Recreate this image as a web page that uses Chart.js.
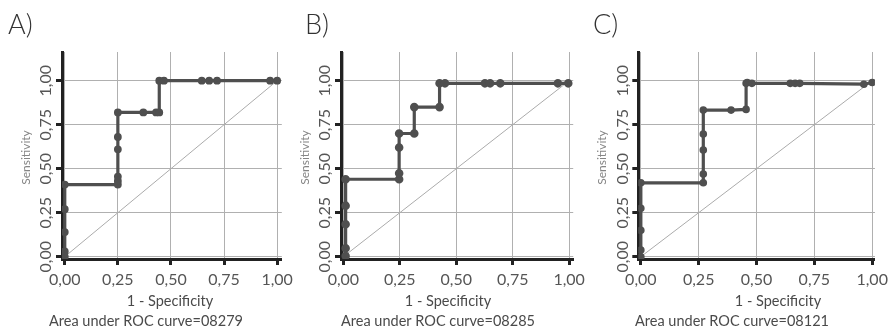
<!DOCTYPE html>
<html>
<head>
<meta charset="utf-8">
<script src="https://cdn.jsdelivr.net/npm/chart.js@4"></script>
<style>
body { margin: 0; background: #fff; width: 893px; height: 329px; position: relative; overflow: hidden; }
canvas { position: absolute; top: 0; }
</style>
</head>
<body>
<canvas id="chartA" width="298" height="329" style="left:0"></canvas>
<canvas id="chartB" width="292" height="329" style="left:298px"></canvas>
<canvas id="chartC" width="303" height="329" style="left:590px"></canvas>
<script>
// axis ticks
var tickValues = [0, 0.25, 0.5, 0.75, 1];
var tickLabels = ['0,00', '0,25', '0,50', '0,75', '1,00'];
var xTitle = '1 - Specificity';
var yTitle = 'Sensitivity';

// reference diagonal
var diagX = [0, 1];
var diagY = [0, 1];

// A) ROC points
var rocAX = [0, 0, 0, 0, 0, 0.25, 0.25, 0.25, 0.25, 0.25, 0.25, 0.37, 0.43, 0.445, 0.445, 0.467, 0.645, 0.68, 0.717, 0.967, 1.0];
var rocAY = [0, 0.03, 0.14, 0.27, 0.41, 0.41, 0.43, 0.455, 0.61, 0.68, 0.82, 0.82, 0.82, 0.82, 1, 1, 1, 1, 1, 1, 1];

// B) ROC points
var rocBX = [0.01, 0.01, 0.01, 0.01, 0.01, 0.247, 0.247, 0.247, 0.247, 0.314, 0.314, 0.426, 0.426, 0.45, 0.627, 0.65, 0.695, 0.95, 0.996];
var rocBY = [0.004, 0.048, 0.184, 0.29, 0.44, 0.44, 0.474, 0.62, 0.70, 0.70, 0.85, 0.85, 0.985, 0.985, 0.985, 0.985, 0.985, 0.985, 0.985];

// C) ROC points
var rocCX = [0, 0, 0, 0, 0, 0.27, 0.27, 0.27, 0.27, 0.27, 0.39, 0.455, 0.455, 0.46, 0.48, 0.646, 0.667, 0.687, 0.964, 1.0];
var rocCY = [0, 0.038, 0.15, 0.275, 0.42, 0.42, 0.47, 0.606, 0.697, 0.833, 0.833, 0.837, 0.985, 0.99, 0.985, 0.985, 0.985, 0.985, 0.98, 0.99];

var panelNames = ['A)', 'B)', 'C)'];
var aucTexts = ['Area under ROC curve=08279', 'Area under ROC curve=08285', 'Area under ROC curve=08121'];

var fontFamily = "Lato, 'Noto Sans', sans-serif";

function pts(xs, ys) {
    return xs.map(function (x, i) { return { x: x, y: ys[i] }; });
}

// panel letter, y title and the two lines under the x axis
var panelText = {
    id: 'panelText',
    afterDraw: function (chart, args, opts) {
        var ctx = chart.ctx;
        var area = chart.chartArea;
        ctx.save();
        ctx.textBaseline = 'middle';
        ctx.textAlign = 'left';
        ctx.fillStyle = '#333';
        ctx.font = '300 27px ' + fontFamily;
        ctx.fillText(opts.name, opts.nameX, 25);

        ctx.fillStyle = '#4a4a4a';
        ctx.textAlign = 'center';
        ctx.font = '400 14.5px ' + fontFamily;
        ctx.fillText(xTitle, opts.specX, 301);
        ctx.fillText(opts.auc, opts.aucX, 321);

        ctx.fillStyle = '#858585';
        ctx.font = '400 12px ' + fontFamily;
        ctx.translate(area.left - 36, (area.top + area.bottom) / 2 + 2);
        ctx.rotate(-Math.PI / 2);
        ctx.fillText(yTitle, 0, 0);
        ctx.restore();
    }
};

function makeChart(id, xs, ys, p) {
    return new Chart(id, {
        type: 'scatter',
        data: {
            datasets: [{
                data: pts(xs, ys),
                showLine: true,
                borderColor: '#4f4f4f',
                backgroundColor: '#4f4f4f',
                borderWidth: 3.2,
                pointRadius: p.dot,
                pointHoverRadius: p.dot,
                tension: 0
            }, {
                data: pts(diagX, diagY),
                showLine: true,
                borderColor: '#ababab',
                borderWidth: 1,
                pointRadius: 0
            }]
        },
        options: {
            responsive: false,
            animation: false,
            events: [],
            layout: { padding: { left: 0, right: p.padR, top: 52, bottom: 0 } },
            plugins: {
                legend: { display: false },
                tooltip: { enabled: false },
                panelText: p.text
            },
            scales: {
                x: {
                    type: 'linear',
                    min: p.xMin,
                    max: p.xMax,
                    afterBuildTicks: function (s) { s.ticks = tickValues.map(function (v) { return { value: v }; }); },
                    afterFit: function (s) { s.height = 70; },
                    ticks: {
                        callback: function (v, i) { return tickLabels[i]; },
                        font: { size: 16, family: fontFamily, weight: 400 },
                        color: '#555',
                        padding: 5,
                        maxRotation: 0
                    },
                    grid: { color: '#b0b0b0', lineWidth: 1, tickColor: '#222', tickWidth: 3, tickLength: 6 },
                    border: { color: '#222', width: 3 }
                },
                y: {
                    type: 'linear',
                    min: -0.013,
                    max: 1.163,
                    afterBuildTicks: function (s) { s.ticks = tickValues.map(function (v) { return { value: v }; }); },
                    afterFit: function (s) { s.width = p.axisX; },
                    ticks: {
                        callback: function (v, i) { return tickLabels[i]; },
                        font: { size: 16, family: fontFamily, weight: 400 },
                        color: '#555',
                        minRotation: 90,
                        maxRotation: 90,
                        crossAlign: 'center',
                        padding: -6
                    },
                    grid: { color: '#b0b0b0', lineWidth: 1, tickColor: '#222', tickWidth: 3, tickLength: 6 },
                    border: { color: '#222', width: 3 }
                }
            }
        },
        plugins: [panelText]
    });
}

makeChart('chartA', rocAX, rocAY, {
    axisX: 62, padR: 3, xMin: -0.013, xMax: 1.022, dot: 2.3,
    text: { name: panelNames[0], nameX: 8, specX: 170, aucX: 146, auc: aucTexts[0] }
});
makeChart('chartB', rocBX, rocBY, {
    axisX: 43, padR: 4.3, xMin: -0.0105, xMax: 1.018, dot: 2.7,
    text: { name: panelNames[1], nameX: 7, specX: 150, aucX: 140, auc: aucTexts[1] }
});
makeChart('chartC', rocCX, rocCY, {
    axisX: 48.3, padR: 8, xMin: -0.011, xMax: 1.012, dot: 2.2,
    text: { name: panelNames[2], nameX: 3, specX: 188, aucX: 142, auc: aucTexts[2] }
});
</script>
</body>
</html>
